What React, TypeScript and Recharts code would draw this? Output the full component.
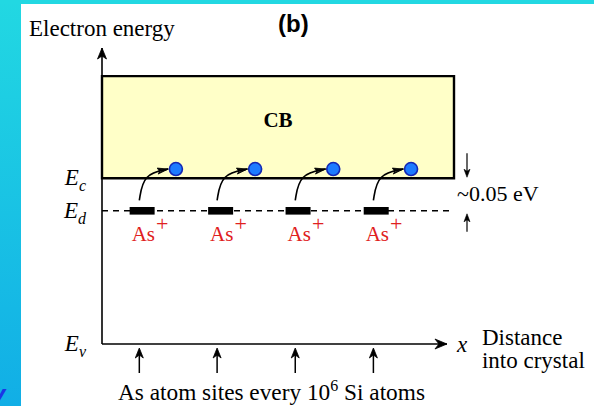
import {
  ComposedChart,
  XAxis,
  YAxis,
  Line,
  Scatter,
  ReferenceArea,
  ReferenceLine,
  Customized,
} from "recharts";

const SERIF = "'Liberation Serif', 'Times New Roman', serif";
const SANS = "'Liberation Sans', Arial, sans-serif";

// energy levels (schematic units, Ev at 0, axis top at 100)
const levelNames = ["v", "d", "c"];
const levelValues = [0, 45, 56];
const Ev = levelValues[0];
const Ed = levelValues[1];
const Ec = levelValues[2];
const cbTop = 90.5;

// positions along the crystal (0..100)
const donorX = [11.4, 33.7, 55.7, 77.9];
const siteX = [10.6, 32.7, 54.9, 77.1];
const electronX = [21.0, 43.5, 65.7, 87.8];
const electronE = 59.1;
const jumpStartE = 48.5;
const jumpBendE = 57.5;
const axisEndX = 98;

const donorPoints = donorX.map((x) => ({ x, y: Ed }));
const sitePoints = siteX.map((x) => ({ x, y: Ev }));
const electronPoints = electronX.map((x) => ({ x, y: electronE }));
const jumpPaths = siteX.map((x, i) => [
  { x, y: jumpStartE },
  { x: x + 1.2, y: jumpBendE },
  { x: electronX[i] - 2.2, y: electronE },
]);
const tipPoints = jumpPaths.map((p) => p[2]);

const Electron = (p: any) => (
  <circle cx={p.cx} cy={p.cy} r={6.5} fill="#1d7bff" stroke="#1428b4" strokeWidth={1.6} />
);

const Donor = (p: any) => (
  <g>
    <rect x={p.cx - 12.5} y={p.cy - 3.8} width={25} height={7.6} fill="#000" />
    <text x={p.cx - 10.5} y={p.cy + 30.5} fill="#e02020" fontFamily={SERIF} fontSize={21}>
      As
      <tspan fontSize={22} dx={1} dy={-10} fill="#e02020">
        +
      </tspan>
    </text>
  </g>
);

const ArrowTip = (p: any) => (
  <path
    d={`M${p.cx},${p.cy} l-11,-1 l3,4 z M${p.cx},${p.cy} l-10,5 l2,-4 z`}
    fill="#000"
    stroke="#000"
    strokeWidth={0.8}
    strokeLinejoin="round"
  />
);

const SiteArrow = (p: any) => (
  <g stroke="#000" strokeWidth={1.5} fill="#000">
    <line x1={p.cx} y1={p.cy + 6} x2={p.cx} y2={p.cy + 29} />
    <path d={`M${p.cx},${p.cy + 4} l-4,10 l4,-3 l4,3 z`} strokeWidth={0.8} />
  </g>
);

const TopArrow = (p: any) => (
  <path d={`M${p.cx},${p.cy} l-4.5,11 l4.5,-3 l4.5,3 z`} fill="#000" stroke="#000" strokeWidth={0.8} />
);

const AxisEnd = (p: any) => (
  <g>
    <path d={`M${p.cx},${p.cy} l-12,-5 l4,5 l-4,5 z`} fill="#000" stroke="#000" strokeWidth={0.8} />
    <text x={p.cx + 10} y={p.cy + 8} fontFamily={SERIF} fontStyle="italic" fontSize={23}>
      x
    </text>
    <text x={p.cx + 35} y={p.cy + 1} fontFamily={SERIF} fontSize={23}>
      Distance
    </text>
    <text x={p.cx + 35} y={p.cy + 24} fontFamily={SERIF} fontSize={23}>
      into crystal
    </text>
  </g>
);

const GapMark = (p: any) => {
  const x = p.cx + 13;
  if (p.payload.y === Ec) {
    return (
      <g stroke="#000" fill="#000">
        <line x1={x} y1={p.cy - 25} x2={x} y2={p.cy - 4} strokeWidth={1.2} />
        <path d={`M${x},${p.cy - 1} l-3,-8 l3,2 l3,-2 z`} strokeWidth={0.6} />
      </g>
    );
  }
  return (
    <g stroke="#000" fill="#000">
      <line x1={x} y1={p.cy + 21} x2={x} y2={p.cy + 6} strokeWidth={1.2} />
      <path d={`M${x},${p.cy + 3} l-3,8 l3,-2 l3,2 z`} strokeWidth={0.6} />
      <text x={p.cx + 3} y={p.cy - 10} fontFamily={SERIF} fontSize={22} stroke="none">
        ~0.05 eV
      </text>
    </g>
  );
};

const LevelTick = (p: any) => {
  const sub = levelNames[levelValues.indexOf(p.payload.value)];
  return (
    <text
      x={p.x}
      y={p.y + 7}
      textAnchor="end"
      fontFamily={SERIF}
      fontStyle="italic"
      fontSize={23}
      fill="#000"
    >
      E
      <tspan fontSize={16} dy={6}>
        {sub}
      </tspan>
    </text>
  );
};

const Annotations = () => (
  <g>
    <text x={29} y={36} fontFamily={SERIF} fontSize={23} fill="#000">
      Electron energy
    </text>
    <text x={278} y={32} fontFamily={SANS} fontWeight="bold" fontSize={24} fill="#000">
      (b)
    </text>
    <text x={118} y={400} fontFamily={SERIF} fontSize={23.3} fill="#000">
      As atom sites every 10
      <tspan fontSize={16} dy={-9}>
        6
      </tspan>
      <tspan dy={9}> Si atoms</tspan>
    </text>
  </g>
);

export default function App() {
  return (
    <div
      style={{
        position: "absolute",
        left: 0,
        top: 0,
        width: 599,
        height: 406,
        background: "#fff",
        overflow: "hidden",
      }}
    >
      <div
        style={{
          position: "absolute",
          left: 0,
          top: 0,
          width: 21,
          height: 406,
          background: "linear-gradient(#22d8e2, #11aee6)",
        }}
      />
      <div style={{ position: "absolute", left: 0, top: 0, width: 594, height: 4, background: "#22d8e2" }} />
      <span
        style={{
          position: "absolute",
          left: -9,
          top: 381,
          fontFamily: SANS,
          fontStyle: "italic",
          fontWeight: "bold",
          fontSize: 26,
          lineHeight: "26px",
          color: "#1a36e6",
        }}
      >
        y
      </span>
      <div style={{ position: "absolute", left: 0, top: 0 }}>
        <ComposedChart width={599} height={406} margin={{ top: 48, right: 145, bottom: 62, left: 0 }}>
          <XAxis type="number" dataKey="x" domain={[0, 100]} hide />
          <YAxis
            type="number"
            dataKey="y"
            domain={[0, 100]}
            ticks={levelValues}
            interval={0}
            width={102}
            tickSize={0}
            tickMargin={16}
            tickLine={false}
            axisLine={{ stroke: "#000", strokeWidth: 1.6 }}
            tick={<LevelTick />}
          />
          <ReferenceArea
            x1={0}
            x2={100}
            y1={Ec}
            y2={cbTop}
            fill="#ffffc8"
            fillOpacity={1}
            stroke="#000"
            strokeWidth={2.4}
            label={{
              value: "CB",
              position: "insideTop",
              offset: 36,
              fill: "#000",
              fontSize: 21,
              fontWeight: "bold",
              fontFamily: SERIF,
            }}
          />
          <ReferenceLine y={Ed} stroke="#000" strokeWidth={1.4} strokeDasharray="6 5" />
          <ReferenceLine
            segment={[
              { x: 0, y: Ev },
              { x: axisEndX, y: Ev },
            ]}
            stroke="#000"
            strokeWidth={1.6}
          />
          {jumpPaths.map((path, i) => (
            <Line
              key={`jump-${i}`}
              data={path}
              dataKey="y"
              type="basis"
              stroke="#000"
              strokeWidth={1.6}
              dot={false}
              activeDot={false}
              isAnimationActive={false}
            />
          ))}
          <Scatter data={tipPoints} shape={<ArrowTip />} isAnimationActive={false} />
          <Scatter data={donorPoints} shape={<Donor />} isAnimationActive={false} />
          <Scatter data={electronPoints} shape={<Electron />} isAnimationActive={false} />
          <Scatter data={sitePoints} shape={<SiteArrow />} isAnimationActive={false} />
          <Scatter data={[{ x: 0, y: 100 }]} shape={<TopArrow />} isAnimationActive={false} />
          <Scatter data={[{ x: axisEndX, y: Ev }]} shape={<AxisEnd />} isAnimationActive={false} />
          <Scatter
            data={[
              { x: 100, y: Ec },
              { x: 100, y: Ed },
            ]}
            shape={<GapMark />}
            isAnimationActive={false}
          />
          <Customized component={<Annotations />} />
        </ComposedChart>
      </div>
    </div>
  );
}
